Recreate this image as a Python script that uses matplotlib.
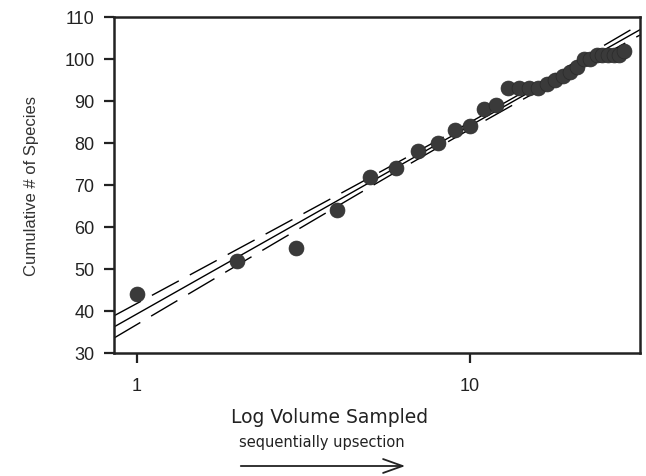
import numpy as np
import matplotlib
matplotlib.use("Agg")
import matplotlib.pyplot as plt
from matplotlib.ticker import FixedLocator, NullLocator

plt.rcParams['font.family'] = ['Liberation Sans', 'DejaVu Sans']

# Data
volume = [1, 2, 3, 4, 5, 6, 7, 8, 9, 10, 11, 12,
          13, 14, 15, 16, 17, 18, 19, 20, 21, 22, 23, 24, 25, 26, 27, 28, 29]
species = [44, 52, 55, 64, 72, 74, 78, 80, 83, 84, 88, 89,
           93, 93, 93, 93, 94, 95, 96, 97, 98, 100, 100, 101, 101, 101, 101, 101, 102]
y_ticks = [30, 40, 50, 60, 70, 80, 90, 100, 110]
x_ticks = [1, 10]
x_tick_labels = ["1", "10"]
# regression line: y = intercept + slope * log10(x)
fit_intercept = 39.3
fit_slope = 44.8

fig = plt.figure(figsize=(6.46, 4.77), dpi=100)
ax = fig.add_axes([0.1765, 0.2579, 0.8142, 0.7044])

x = np.array(volume, dtype=float)
y = np.array(species, dtype=float)
lx = np.log10(x)

n = len(x)
resid = y - (fit_intercept + fit_slope * lx)
s = np.sqrt(np.sum(resid**2) / (n - 2))
xmin, xmax = 0.853, 32.4
xx = np.logspace(np.log10(xmin), np.log10(xmax), 200)
lxx = np.log10(xx)
yy = fit_intercept + fit_slope * lxx
se = s * np.sqrt(1.0 / n + (lxx - lx.mean())**2 / np.sum((lx - lx.mean())**2))
t = 2.05
ax.plot(xx, yy, color='black', lw=1.0, zorder=2)
ax.plot(xx, yy + t * se, color='black', lw=1.0, dashes=(22, 9), zorder=2)
ax.plot(xx, yy - t * se, color='black', lw=1.0, dashes=(22, 9), dash_capstyle='butt', zorder=2)

ax.scatter(x, y, s=115, color='#3a3a3a', edgecolors='#2a2a2a', linewidths=0.5, zorder=3)

ax.set_xscale('log')
ax.set_xlim(xmin, xmax)
ax.set_ylim(30, 110)
ax.xaxis.set_major_locator(FixedLocator(x_ticks))
ax.xaxis.set_minor_locator(NullLocator())
ax.set_xticklabels(x_tick_labels)
ax.set_yticks(y_ticks)

for sp in ax.spines.values():
    sp.set_linewidth(1.8)
    sp.set_color('#222222')

ax.tick_params(axis='y', direction='out', length=7, width=1.6, labelsize=13, pad=7, colors='#222222')
ax.tick_params(axis='x', direction='out', length=7.5, width=1.6, labelsize=13, pad=10, colors='#222222')

ax.set_ylabel('Cumulative # of Species', fontsize=12, color='#333333', labelpad=18)

fig.text(330 / 646, 1 - 418 / 477, 'Log Volume Sampled', ha='center', va='center',
         fontsize=13.5, color='#222222', family=['DejaVu Sans'])
fig.text(322 / 646, 1 - 442 / 477, 'sequentially upsection', ha='center', va='center',
         fontsize=10.5, color='#222222', family=['DejaVu Sans'])
fig.add_artist(matplotlib.patches.FancyArrowPatch(
    (238 / 646, 1 - 467 / 477), (408 / 646, 1 - 467 / 477),
    transform=fig.transFigure, arrowstyle='->,head_length=14,head_width=5',
    color='#222222', lw=1.3))

fig.savefig('out.png', dpi=100)
